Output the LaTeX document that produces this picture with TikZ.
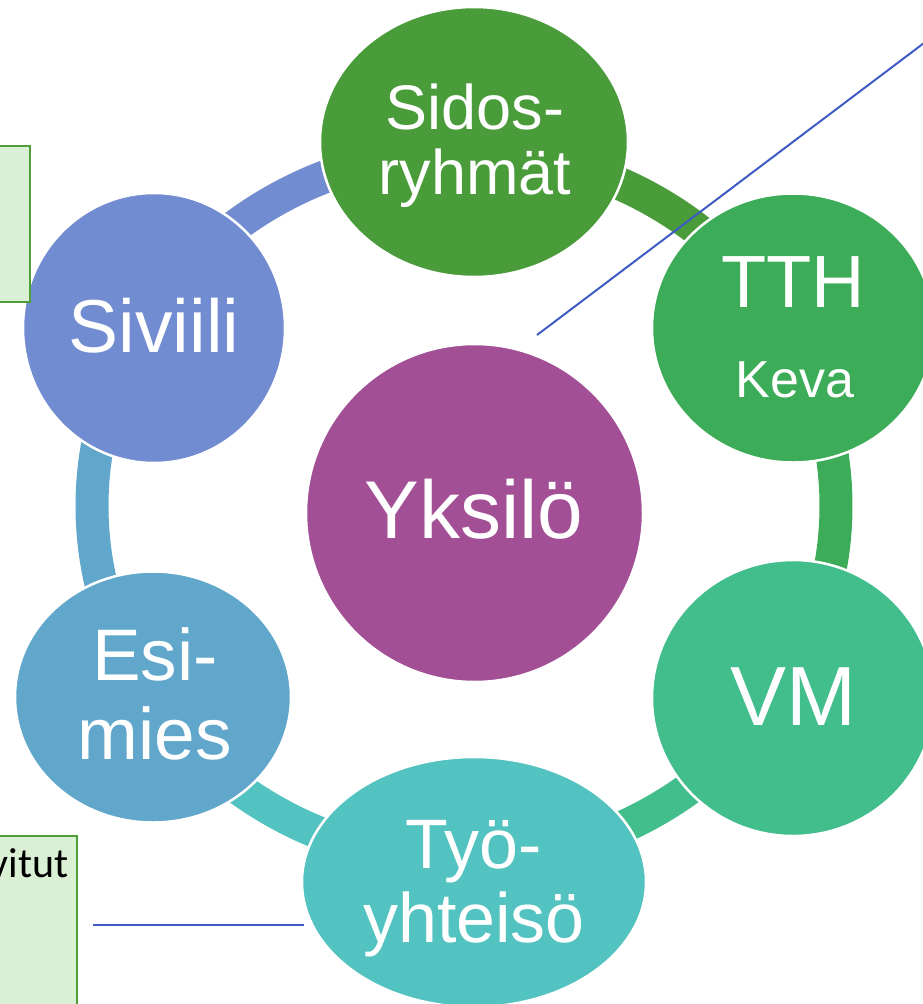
\documentclass[tikz,border=0pt]{standalone}
\usepackage{fontspec}
\setmainfont{Liberation Sans}
\newfontfamily\calfont{Carlito}
\usetikzlibrary{shapes.geometric}
\definecolor{cSid}{HTML}{4A9B3A}
\definecolor{cTTH}{HTML}{3CAC58}
\definecolor{cVM}{HTML}{42BD8C}
\definecolor{cTyo}{HTML}{52C3C0}
\definecolor{cEsi}{HTML}{60A7CB}
\definecolor{cSiv}{HTML}{718CD0}
\definecolor{cYks}{HTML}{A34F96}
\definecolor{boxfill}{HTML}{D9F0D5}
\definecolor{boxline}{HTML}{4E9E3A}
\definecolor{lineblue}{HTML}{3F5BC4}
\tikzset{
  bubble/.style={ellipse, inner sep=0pt, outer sep=0pt, draw=white, line width=2.5pt},
  ringseg/.style={line width=33pt},
  lbl/.style={text=white, inner sep=0pt, anchor=base},
  notebox/.style={rectangle, draw=boxline, fill=boxfill, line width=2pt, inner sep=0pt},
  leader/.style={draw=lineblue, line width=2pt}
}
\begin{document}
\begin{tikzpicture}[x=1pt,y=1pt]
\useasboundingbox (0,-1004) rectangle (923,0);
\clip (0,-1004) rectangle (923,0);
% ring
\coordinate (rc) at (464,-506);
\draw[ringseg, cSiv] (rc) ++(149:372pt and 355pt) arc[start angle=149, end angle=90, x radius=372pt, y radius=355pt];
\draw[ringseg, cSid] (rc) ++(90:372pt and 355pt) arc[start angle=90, end angle=30, x radius=372pt, y radius=355pt];
\draw[ringseg, cTTH] (rc) ++(30:372pt and 355pt) arc[start angle=30, end angle=-31, x radius=372pt, y radius=355pt];
\draw[ringseg, cVM] (rc) ++(-31:372pt and 355pt) arc[start angle=-31, end angle=-90, x radius=372pt, y radius=355pt];
\draw[ringseg, cTyo] (rc) ++(-90:372pt and 355pt) arc[start angle=-90, end angle=-148, x radius=372pt, y radius=355pt];
\draw[ringseg, cEsi] (rc) ++(212:372pt and 355pt) arc[start angle=212, end angle=149, x radius=372pt, y radius=355pt];
% bubbles
\node[bubble, fill=cSid, minimum width=308pt, minimum height=270pt] (sid) at (474,-142) {};
\node[bubble, fill=cTTH, minimum width=282pt, minimum height=269pt] (tth) at (793,-328) {};
\node[bubble, fill=cVM, minimum width=282pt, minimum height=276pt] (vm) at (793,-698) {};
\node[bubble, fill=cTyo, minimum width=344pt, minimum height=250pt] (tyo) at (474,-882) {};
\node[bubble, fill=cEsi, minimum width=276pt, minimum height=251pt] (esi) at (153,-697) {};
\node[bubble, fill=cSiv, minimum width=262pt, minimum height=270pt] (siv) at (154,-328) {};
\node[bubble, fill=cYks, minimum width=337pt, minimum height=338pt] (yks) at (474.5,-513) {};
% labels
\node[lbl, font=\fontsize{63}{66}\selectfont] (t1) at (475,-129) {Sidos-};
\node[lbl, font=\fontsize{63}{66}\selectfont] (t2) at (475,-194) {ryhmät};
\node[lbl, font=\fontsize{74}{80}\selectfont] (t3) at (793,-307) {TTH};
\node[lbl, font=\fontsize{52}{56}\selectfont] (t4) at (795,-397) {Keva};
\node[lbl, font=\fontsize{84}{88}\selectfont] (t5) at (793,-725) {VM};
\node[lbl, font=\fontsize{70}{74}\selectfont] (t6) at (474,-868) {Työ-};
\node[lbl, font=\fontsize{70}{74}\selectfont] (t7) at (474,-942) {yhteisö};
\node[lbl, font=\fontsize{73}{78}\selectfont] (t8) at (155,-680) {Esi-};
\node[lbl, font=\fontsize{73}{78}\selectfont] (t9) at (155,-759) {mies};
\node[lbl, font=\fontsize{75}{80}\selectfont] (t10) at (154,-352) {Siviili};
\node[lbl, font=\fontsize{82}{86}\selectfont] (t11) at (474,-538) {Yksilö};
% note boxes
\node[notebox, minimum width=50pt, minimum height=156pt] (box1) at (5,-224) {};
\node[notebox, minimum width=100pt, minimum height=200pt] (box2) at (27,-936) {};
\node[inner sep=0pt, anchor=base east, font=\calfont\fontsize{42}{46}\selectfont] (vit) at (69,-877) {vitut};
% leader lines
\coordinate (l1a) at (537,-335);
\coordinate (l1b) at (928,-40);
\draw[leader] (l1a) -- (l1b);
\coordinate (l2a) at (93,-925);
\coordinate (l2b) at (304,-925);
\draw[leader] (l2a) -- (l2b);
\end{tikzpicture}
\end{document}
